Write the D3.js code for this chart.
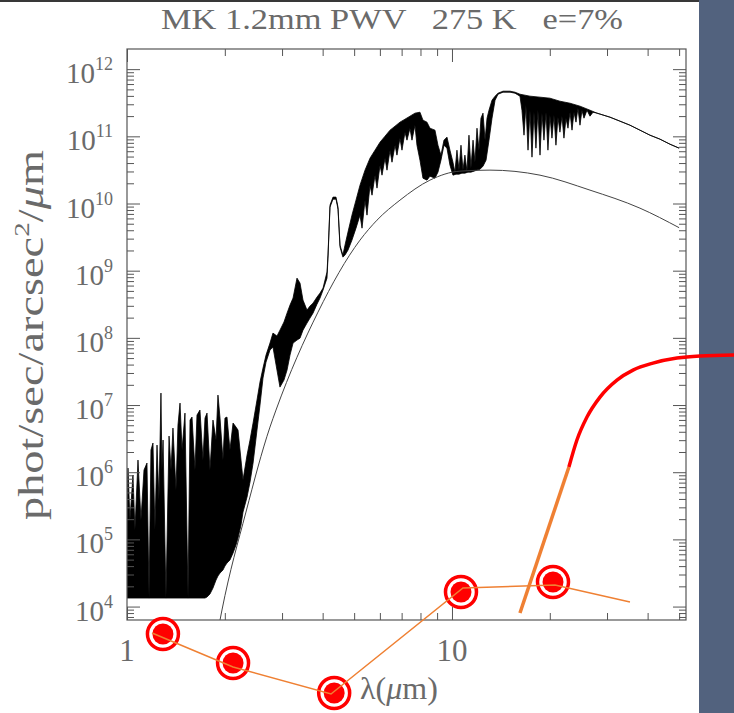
<!DOCTYPE html>
<html>
<head>
<meta charset="utf-8">
<script src="https://cdn.jsdelivr.net/npm/d3@7"></script>
<style>
  body { margin: 0; background: #fff; }
  svg { display: block; }
  text { font-family: "Liberation Serif", "DejaVu Serif", serif; fill: #6a6a6a; }
</style>
</head>
<body>
<svg id="main-svg" width="734" height="713"></svg>
<script>
// sky emission spectrum: upper and lower edge of the black band
// wavelength in micron, flux as log10(phot/sec/arcsec2/micron)
var hiLam = [1.000,1.007,1.021,1.043,1.058,1.081,1.104,1.128,1.152,1.169,1.185,1.202,1.219,1.237,1.254,1.272,1.281,1.291,1.318,1.347,
  1.366,1.385,1.415,1.435,1.456,1.477,1.508,1.541,1.563,1.585,1.619,1.642,1.677,1.713,1.738,1.763,1.800,1.839,1.879,1.905,
  1.933,1.974,2.002,2.031,2.074,2.120,2.165,2.196,2.243,2.275,2.341,2.391,2.443,2.512,2.566,2.621,2.678,2.754,2.813,2.894,
  2.956,3.041,3.108,3.174,3.243,3.335,3.407,3.480,3.580,3.657,3.736,3.843,3.926,4.011,4.125,4.154,4.184,4.214,4.304,4.397,
  4.460,4.524,4.617,4.686,4.786,4.923,5.066,5.212,5.400,5.595,5.797,6.006,6.223,6.447,6.680,6.918,7.168,7.426,7.694,7.971,
  8.142,8.376,8.556,8.865,9.055,9.250,9.449,9.652,9.859,10.07,10.21,10.36,10.51,10.66,10.81,10.96,11.12,11.28,11.44,11.61,
  11.77,11.94,12.11,12.28,12.46,12.64,12.82,13.00,13.28,13.57,13.86,14.36,15.09,15.63,16.19,17.38,18.66,20.02,21.49,23.08,
  24.77,26.59,27.94,30.64,32.87,35.29,37.88,40.67,43.65,46.86,50.0];
var hiLog = [5.586,6.062,5.288,5.958,5.139,6.181,5.288,6.032,6.136,4.127,6.330,6.434,5.139,6.404,5.586,7.178,6.032,6.479,4.127,6.538,
  6.032,6.657,5.735,6.702,7.029,6.330,6.880,4.127,6.776,6.821,6.032,6.851,6.925,6.181,6.806,6.880,6.032,6.776,6.479,7.148,
  6.806,6.181,6.806,6.821,6.330,6.732,6.672,6.627,6.181,5.883,6.255,6.479,6.732,7.074,7.342,7.550,7.743,7.922,8.071,8.026,
  8.115,8.235,8.368,8.488,8.592,8.889,8.815,8.562,8.413,8.473,8.517,8.607,8.666,8.741,8.979,9.232,9.604,9.976,10.095,10.095,
  9.946,9.380,9.232,9.380,9.574,9.827,10.050,10.273,10.496,10.675,10.794,10.913,11.002,11.092,11.151,11.211,11.255,11.300,11.345,11.359,
  11.241,11.211,11.121,11.092,10.868,10.720,10.943,10.988,10.794,10.615,10.467,10.794,10.497,10.868,10.497,10.720,10.482,11.017,10.526,10.943,
  10.615,11.121,10.794,11.270,11.345,10.943,11.270,11.389,11.538,11.598,11.642,11.672,11.672,11.657,11.627,11.598,11.583,11.568,11.523,11.493,
  11.449,11.389,11.345,11.285,11.226,11.166,11.092,11.017,10.958,10.883,10.824];

var loLam = [1.000,1.738,1.763,1.800,1.839,1.879,1.905,1.933,1.974,2.002,2.031,2.074,2.120,2.165,2.196,2.243,2.275,2.341,2.391,2.443,
  2.512,2.566,2.621,2.678,2.754,2.813,2.894,2.956,3.041,3.108,3.174,3.243,3.335,3.407,3.480,3.580,3.657,3.736,3.843,3.926,
  4.011,4.125,4.154,4.184,4.214,4.304,4.397,4.460,4.524,4.617,4.686,4.786,4.923,5.066,5.212,5.287,5.400,5.477,5.595,5.675,
  5.797,5.879,6.006,6.091,6.223,6.310,6.447,6.538,6.680,6.772,6.918,7.017,7.168,7.270,7.426,7.532,7.694,7.803,7.971,8.142,
  8.376,8.556,8.865,9.055,9.250,9.449,9.652,9.859,10.07,10.29,10.51,10.73,10.96,11.20,11.44,11.69,11.94,12.20,12.46,12.73,
  13.00,13.28,13.57,13.86,14.36,15.09,15.63,16.19,16.42,16.66,16.89,17.14,17.38,17.63,17.88,18.13,18.39,18.66,18.92,19.19,
  19.47,19.74,20.02,20.31,20.60,20.89,21.19,21.49,21.80,22.11,22.43,22.75,23.08,23.41,23.74,24.08,24.42,24.77,25.12,25.48,
  26.03,26.59,27.16,27.94,30.64,32.87,35.29,37.88,40.67,43.65,46.86,50.0];
var loLog = [4.127,4.127,4.142,4.187,4.276,4.395,4.455,4.499,4.544,4.604,4.648,4.693,4.797,4.916,5.020,5.214,5.407,5.630,5.854,6.136,
  6.627,6.999,7.401,7.639,7.818,7.863,7.520,7.267,7.371,7.520,7.743,7.922,7.967,7.996,8.115,8.220,8.294,8.368,8.502,8.592,
  8.711,8.889,9.187,9.574,9.946,10.065,10.065,9.916,9.351,9.202,9.232,9.306,9.455,9.633,9.827,9.633,10.050,9.827,10.273,10.124,
  10.422,10.229,10.571,10.422,10.675,10.496,10.794,10.615,10.868,10.720,10.973,10.794,11.062,10.943,11.121,10.943,11.166,10.868,10.645,10.377,
  10.348,10.407,10.377,10.467,10.645,10.868,10.824,10.571,10.422,10.437,10.437,10.452,10.452,10.467,10.467,10.482,10.497,10.511,10.556,10.645,
  10.943,11.270,11.538,11.627,11.657,11.657,11.642,11.598,11.389,11.017,11.464,10.794,11.389,10.690,11.359,10.824,11.389,10.720,11.345,10.943,
  11.359,10.794,11.315,10.973,11.315,10.868,11.285,11.062,11.300,10.973,11.270,11.121,11.359,11.092,11.359,11.211,11.419,11.166,11.389,11.270,
  11.389,11.300,11.359,11.345,11.285,11.226,11.166,11.092,11.017,10.958,10.883,10.824];

// smooth grey curve (telescope thermal emission)
var bbLam = [1.933,1.960,2.323,2.754,2.874,3.870,5.212,5.878,6.918,8.556,10.58,13.09,18.66,26.59,37.88,50.0];
var bbLog = [3.800,3.949,5.407,6.672,6.925,8.383,9.455,9.752,10.050,10.348,10.482,10.497,10.422,10.199,9.931,9.640];

// hand-drawn overlay: target markers, thin orange trail, thick stem and red arc
var ptLam = [1.29,2.12,4.34,10.66,20.46];
var ptLog = [3.592,3.160,2.714,4.217,4.365];
var trailLam = [1.194,2.120,4.244,10.81,20.75,35.30];
var trailLog = [3.607,3.101,2.699,4.276,4.321,4.068];
var stemLam = [16.19,22.9];
var stemLog = [3.904,6.077];
var arcLam = [22.9,24.24,26.03,28.54,32.19,36.06,41.54,49.24,57.96,73.77];
var arcLog = [6.077,6.479,6.821,7.118,7.371,7.520,7.624,7.699,7.729,7.743];

var xMajor = [1, 10];
var xMinor = [2,3,4,5,6,7,8,9,20,30,40,50];
var yExp = [4,5,6,7,8,9,10,11,12];

var svg = d3.select("#main-svg");
var pL = 127, pR = 686, pT = 49, pB = 620;

var x = d3.scaleLog().domain([1, 52.5]).range([pL, pR]);
var y = d3.scaleLog().domain([Math.pow(10, 3.8), Math.pow(10, 12.3)]).range([pB, pT]);
function fy(v) { return y(Math.pow(10, v)); }

var yMinor = [];
for (var n = 3; n <= 11; n++) {
  for (var k = 2; k <= 9; k++) {
    var v = k * Math.pow(10, n);
    if (v > y.domain()[0] && v < y.domain()[1]) yMinor.push(v);
  }
}
var yMajor = yExp.map(function(e) { return Math.pow(10, e); });

// page decoration
svg.append("rect").attr("x", 0).attr("y", 0).attr("width", 734).attr("height", 713).attr("fill", "#fff");
svg.append("rect").attr("x", 0).attr("y", 0).attr("width", 699).attr("height", 2).attr("fill", "#383838");

svg.append("clipPath").attr("id", "plotclip")
  .append("rect").attr("x", pL).attr("y", pT).attr("width", pR - pL).attr("height", pB - pT);

var plot = svg.append("g").attr("clip-path", "url(#plotclip)");

// black band of the spectrum
var band = hiLam.map(function(d, i) { return [x(d), fy(hiLog[i])]; });
for (var i = loLam.length - 1; i >= 0; i--) band.push([x(loLam[i]), fy(loLog[i])]);
plot.append("path")
  .attr("d", d3.line()(band) + "Z")
  .attr("fill", "#000")
  .attr("stroke", "#000")
  .attr("stroke-width", 0.8)
  .attr("stroke-linejoin", "round");

plot.append("path")
  .attr("d", d3.line().curve(d3.curveMonotoneX)(bbLam.map(function(d, i) { return [x(d), fy(bbLog[i])]; })))
  .attr("fill", "none")
  .attr("stroke", "#444")
  .attr("stroke-width", 1);

// axes, ticks on all four sides pointing in
function tickAxis(axis, tx, ty, vals, len) {
  var g = svg.append("g").attr("transform", "translate(" + tx + "," + ty + ")")
    .call(axis.tickValues(vals).tickSize(-len).tickSizeOuter(0).tickFormat(""));
  g.select(".domain").remove();
  g.selectAll("line").attr("stroke", "#555").attr("stroke-width", 1);
}
tickAxis(d3.axisBottom(x), 0, pB, xMajor, 13);
tickAxis(d3.axisBottom(x), 0, pB, xMinor, 7);
tickAxis(d3.axisTop(x), 0, pT, xMajor, 13);
tickAxis(d3.axisTop(x), 0, pT, xMinor, 7);
tickAxis(d3.axisLeft(y), pL, 0, yMajor, 13);
tickAxis(d3.axisLeft(y), pL, 0, yMinor, 7);
tickAxis(d3.axisRight(y), pR, 0, yMajor, 13);
tickAxis(d3.axisRight(y), pR, 0, yMinor, 7);

svg.append("rect")
  .attr("x", pL).attr("y", pT).attr("width", pR - pL).attr("height", pB - pT)
  .attr("fill", "none").attr("stroke", "#555").attr("stroke-width", 1.2);

// tick labels
var yl = svg.append("g").selectAll("text").data(yExp).enter().append("text")
  .attr("x", 113)
  .attr("y", function(d) { return fy(d) + 14; })
  .attr("text-anchor", "end");
yl.append("tspan").attr("font-size", 29).text("10");
yl.append("tspan").attr("font-size", 18).attr("dy", -13).text(function(d) { return d; });

svg.append("g").selectAll("text").data(xMajor).enter().append("text")
  .attr("x", function(d) { return x(d); })
  .attr("y", 661)
  .attr("text-anchor", "middle")
  .attr("font-size", 31)
  .text(function(d) { return d; });

// titles
svg.append("text")
  .attr("x", 392).attr("y", 29)
  .attr("text-anchor", "middle")
  .attr("font-size", 29)
  .attr("textLength", 462)
  .attr("lengthAdjust", "spacingAndGlyphs")
  .style("white-space", "pre")
  .text("MK 1.2mm PWV   275 K   e=7%");

var yt = svg.append("text")
  .attr("transform", "translate(43,335) rotate(-90)")
  .attr("text-anchor", "middle")
  .attr("font-size", 35)
  .attr("textLength", 370)
  .attr("lengthAdjust", "spacingAndGlyphs");
yt.append("tspan").text("phot/sec/arcsec");
yt.append("tspan").attr("font-size", 22).attr("dy", -14).text("2");
yt.append("tspan").attr("dy", 14).text("/");
yt.append("tspan").attr("font-style", "italic").text("\u03bc");
yt.append("tspan").text("m");

var xt = svg.append("text").attr("x", 360).attr("y", 699).attr("font-size", 32);
xt.append("tspan").text("\u03bb(");
xt.append("tspan").attr("font-style", "italic").text("\u03bc");
xt.append("tspan").text("m)");

// side panel
svg.append("rect").attr("x", 699).attr("y", 0).attr("width", 35).attr("height", 713).attr("fill", "#52627e");

// overlay
var orange = "#ef8033", red = "#ff0000";
var mk = svg.append("g").selectAll("g").data(ptLam).enter().append("g");
mk.append("circle")
  .attr("cx", function(d) { return x(d); })
  .attr("cy", function(d, i) { return fy(ptLog[i]); })
  .attr("r", 15.5).attr("fill", "#fff").attr("stroke", red).attr("stroke-width", 3.5);
mk.append("circle")
  .attr("cx", function(d) { return x(d); })
  .attr("cy", function(d, i) { return fy(ptLog[i]); })
  .attr("r", 10.5).attr("fill", red);

svg.append("path")
  .attr("d", d3.line()(trailLam.map(function(d, i) { return [x(d), fy(trailLog[i])]; })))
  .attr("fill", "none").attr("stroke", orange).attr("stroke-width", 1.5);

svg.append("path")
  .attr("d", d3.line()(stemLam.map(function(d, i) { return [x(d), fy(stemLog[i])]; })))
  .attr("fill", "none").attr("stroke", orange).attr("stroke-width", 3.5);

svg.append("path")
  .attr("d", d3.line().curve(d3.curveMonotoneX)(arcLam.map(function(d, i) { return [x(d), fy(arcLog[i])]; })))
  .attr("fill", "none").attr("stroke", red).attr("stroke-width", 3.5);
</script>
</body>
</html>
